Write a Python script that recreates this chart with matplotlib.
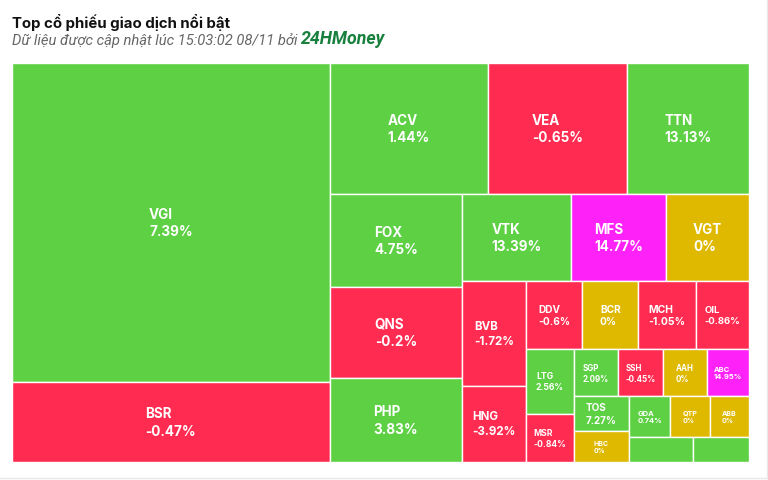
import matplotlib
matplotlib.use("Agg")
import matplotlib.pyplot as plt
from matplotlib.patches import Rectangle

plt.rcParams["font.family"] = ["Inter", "Roboto", "DejaVu Sans"]

TITLE = "Top cổ phiếu giao dịch nổi bật"
SUBTITLE = "Dữ liệu được cập nhật lúc 15:03:02 08/11 bởi "
BRAND = "24HMoney"

# tickers, size of each tile (relative traded value) and % change
TICKERS = ["VGI", "BSR", "ACV", "VEA", "TTN", "FOX", "QNS", "PHP", "VTK", "MFS",
           "VGT", "BVB", "HNG", "DDV", "BCR", "MCH", "OIL", "LTG", "MSR", "SGP",
           "SSH", "AAH", "ABC", "TOS", "HBC", "GDA", "QTP", "ABB", "", ""]
SIZES = [1014, 254, 207, 182, 160, 123, 120, 111, 95, 83,
         72, 67, 49, 38, 38, 39, 36, 31, 23, 21,
         21, 21, 20, 19, 17, 17, 16, 16, 16, 14]
CHANGES = [7.39, -0.47, 1.44, -0.65, 13.13, 4.75, -0.2, 3.83, 13.39, 14.77,
           0, -1.72, -3.92, -0.6, 0, -1.05, -0.86, 2.56, -0.84, 2.09,
           -0.45, 0, 14.95, 7.27, 0, 0.74, 0, 0, 0.5, 0.5]
# how many tiles go in each strip, strips alternate column / row
STRIPS = [2, 3, 3, 3, 2, 4, 2, 4, 2, 3, 2]

GREEN = "#5ED044"
RED = "#FF2B50"
YELLOW = "#DFB800"
CEILING = "#FF22F8"


def tile_color(c):
    if c >= 14.5:
        return CEILING
    if c > 0:
        return GREEN
    if c < 0:
        return RED
    return YELLOW


def strip_layout(sizes, strips, x, y, w, h):
    rects = []
    i = 0
    column = True
    for k, n in enumerate(strips):
        vals = sizes[i:i + n]
        rest = sum(sizes[i:])
        s = sum(vals)
        if k == len(strips) - 1:
            column = h > w
        if column:
            cw = w * s / rest
            yy = y
            for v in vals:
                hh = h * v / s
                rects.append((x, yy, cw, hh))
                yy += hh
            x += cw
            w -= cw
        else:
            rh = h * s / rest
            xx = x
            for v in vals:
                ww = w * v / s
                rects.append((xx, y, ww, rh))
                xx += ww
            y += rh
            h -= rh
        column = not column
        i += n
    return rects


def label_px(w, h):
    px = min(13.5, 0.18 * w)
    if 2.6 * px > h - 8:
        px *= 0.7
    return max(6, px)


fig = plt.figure(figsize=(7.68, 4.81), dpi=100)
ax = fig.add_axes([0, 0, 1, 1])
ax.set_xlim(0, 768)
ax.set_ylim(481, 0)
ax.axis("off")

# card edge
ax.plot([766.5, 766.5], [0, 479], color="#e8e8e8", lw=1)
ax.plot([0, 766.5], [479, 479], color="#e8e8e8", lw=1)

ax.text(12, 28, TITLE, fontsize=10.8, fontweight="bold", color="#111111", va="baseline")
t1 = ax.text(12, 45.5, SUBTITLE, fontsize=10.6, fontstyle="italic", color="#666666",
             va="baseline", family=["Roboto", "DejaVu Sans"])
ax.annotate(BRAND, xy=(1, 0), xycoords=t1, xytext=(0, 0), textcoords="offset points",
            fontsize=12.8, fontweight="bold", fontstyle="italic", color="#17803D",
            va="bottom", ha="left", family=["Roboto", "DejaVu Sans"])

rects = strip_layout(SIZES, STRIPS, 12, 64, 737, 399)
for (x, y, w, h), name, c in zip(rects, TICKERS, CHANGES):
    ax.add_patch(Rectangle((x, y), w, h, facecolor=tile_color(c), edgecolor="white", lw=1))
    if not name:
        continue
    px = label_px(w, h)
    ax.text(x + w / 2, y + h / 2, f"{name}\n{c:g}%", ha="center", va="center",
            multialignment="left", color="white", fontweight="bold",
            fontsize=px * 0.72, linespacing=1.3)

fig.savefig("out.png", dpi=100)
